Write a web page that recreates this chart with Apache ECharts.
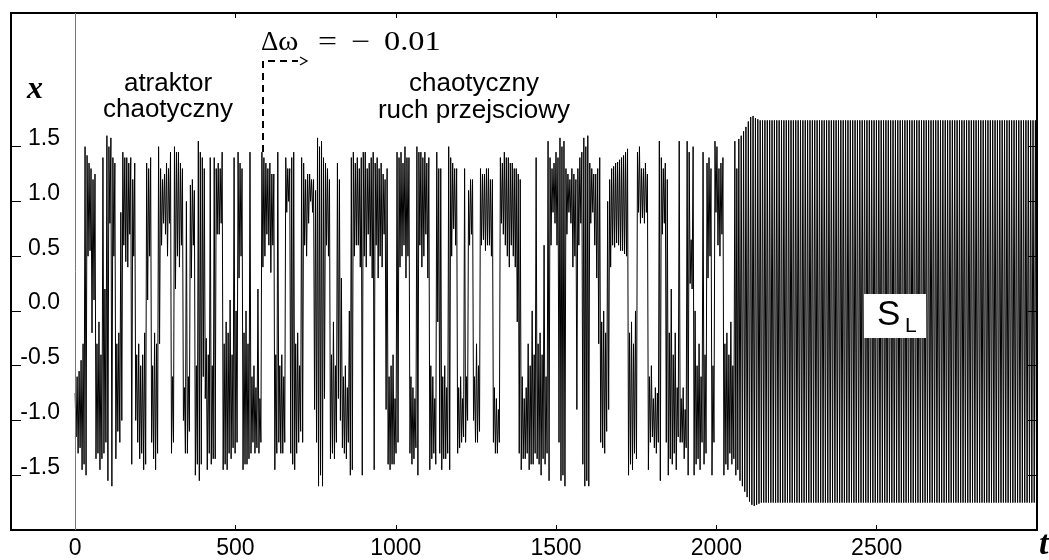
<!DOCTYPE html>
<html>
<head>
<meta charset="utf-8">
<script src="https://cdn.jsdelivr.net/npm/echarts@6/dist/echarts.min.js"></script>
<style>
html,body{margin:0;padding:0;background:#fff;}
#chart{width:1049px;height:560px;}
</style>
</head>
<body>
<div id="chart"></div>
<script>
// ---- data ----
// chaotic part (t = 0 ... ~2070): one (maximum, minimum) pair per oscillation
const chaosMax = [
  -0.75,-0.6,-0.55,-0.45,-0.3,1.5,1.42,1.35,1.3,1.2,1.25,-0.3,-0.1,-0.4,1.4,0.2,1.6,1.5,1.58,1.4,
  1.35,-0.3,-0.2,0.9,1.45,1.4,1.4,1.35,1.4,1.2,1.35,-0.4,-0.3,-0.5,-0.4,-0.2,1.35,1.3,1.4,-0.5,
  -0.2,-0.3,1.5,1.3,1.2,1.25,1.35,1.3,1.45,-0.6,1.5,1.45,1.45,1.35,1.3,-0.7,1.0,-0.6,1.15,1.2,
  1.1,-0.5,1.55,1.45,1.4,1.3,
  -0.25,-0.4,1.4,-0.5,1.4,1.3,1.35,1.3,1.45,-0.3,-0.1,-0.2,0.1,-0.4,1.4,0.0,1.45,1.35,1.3,-0.2,
  0.0,-0.3,1.45,-0.6,-0.5,-0.7,0.2,-0.8,1.45,1.4,1.35,1.3,1.35,1.25,1.25,-0.4,1.45,-0.5,-0.4,-0.6,
  1.4,1.3,1.3,1.4,1.45,-0.3,-0.2,-0.5,1.4,1.35,1.2,1.25,1.25,1.2,1.2,1.1,1.58,1.5,1.55,1.4,
  1.35,1.3,1.2,-0.4,-0.1,-0.5,1.35,1.2,
  0.3,-0.6,-0.5,-0.7,0.0,1.4,1.45,1.35,1.4,1.3,1.4,1.45,1.45,1.3,1.35,1.4,1.45,1.35,1.4,1.3,
  1.35,1.25,1.2,1.3,-0.6,-0.5,-0.4,-0.8,1.45,1.4,1.45,1.35,1.5,1.4,1.4,-0.6,-0.7,-0.8,1.5,1.45,
  1.45,1.4,1.45,1.35,1.4,-0.5,-0.6,-0.8,1.45,1.3,1.3,-0.6,-0.5,-0.7,1.5,1.4,1.35,1.3,1.3,-0.7,
  -0.6,-0.8,1.3,-0.6,1.1,1.2,1.2,-0.6,
  -0.3,-0.5,1.3,1.25,1.25,1.3,1.3,1.2,1.2,-0.7,-0.8,-0.9,1.4,1.35,1.45,1.4,1.4,1.35,1.35,1.3,
  1.3,1.25,1.2,-0.6,-0.8,-0.7,-0.3,-0.5,0.0,-0.4,1.4,-0.3,-0.2,-0.4,0.6,-0.6,1.55,1.4,1.3,1.35,
  1.45,1.4,1.58,1.5,1.55,1.3,1.25,1.2,1.3,1.25,1.2,1.3,1.4,1.45,1.58,1.5,1.6,1.35,1.3,1.25,
  1.25,1.3,1.4,-0.1,0.0,-0.2,1.0,1.2,
  1.3,1.32,1.35,1.36,1.38,1.4,1.42,1.45,1.48,-0.2,-0.1,-0.3,0.0,1.45,1.5,1.3,1.3,1.35,1.25,-0.6,
  -0.5,-0.8,-0.7,-0.75,1.55,1.4,1.3,1.35,1.2,-0.2,0.2,-0.4,-0.2,-0.7,1.55,-0.8,-0.7,-0.9,1.55,1.45,
  0.65,1.5,0.0,-0.5,-0.3,-0.6,1.45,-0.4,1.35,1.4,1.3,-0.5,1.55,1.5,1.3,1.35,1.4,-0.3,-0.2,-0.4,
  -0.1,-0.5,1.55,1.3
];
const chaosMin = [
  -1.15,-1.3,-1.25,-1.45,-1.4,-1.5,0.5,0.55,-0.2,0.1,-1.35,-1.3,-1.45,-1.35,-1.3,-1.2,-1.55,0.8,-1.6,0.5,
  -1.35,-1.1,-1.2,-1.0,0.6,0.45,0.4,0.7,-1.4,0.5,-1.0,-1.2,-1.35,-1.3,-1.45,-1.4,0.1,0.5,-1.2,-1.35,
  -1.45,-1.3,-0.3,0.6,0.8,0.7,0.5,0.8,-1.3,-1.2,0.2,0.5,0.4,0.6,-1.0,-1.3,-1.3,-1.1,0.3,0.6,
  -1.5,-1.4,-1.55,-1.4,-0.6,-0.8,
  -1.45,-1.3,-1.4,-1.35,-1.35,0.7,0.7,0.8,-1.45,-1.4,-1.45,-1.3,-1.35,-1.25,-1.3,-1.2,0.3,0.5,-1.45,-1.4,
  -1.4,-1.35,-1.3,-1.2,-1.3,-1.25,-1.3,-1.2,0.4,0.5,0.7,0.6,0.35,0.6,-1.45,-1.3,-1.2,-1.3,-1.3,-1.2,
  0.9,1.0,-1.3,-1.4,-1.45,-1.3,-1.2,-1.1,-1.2,0.6,0.5,0.8,1.0,0.9,-0.9,-1.2,-1.6,-1.5,-1.6,-0.8,
  0.6,0.5,-1.35,-1.3,-1.35,-1.2,-0.8,-1.0,
  -1.25,-1.3,-1.35,-1.2,-1.5,-1.45,0.5,0.6,0.6,0.4,-1.5,0.5,0.4,0.7,0.5,0.3,-1.45,0.6,0.3,0.5,
  0.4,0.7,-0.9,-1.4,-1.45,-1.4,-1.4,-1.3,-1.2,0.4,0.5,0.6,0.3,0.5,-1.3,-1.4,-1.35,-1.25,-1.5,0.6,
  0.4,0.5,0.7,0.3,-1.45,-1.35,-1.3,-1.4,-0.1,-1.3,-1.45,-1.35,-1.35,-1.3,-1.45,0.5,0.75,0.6,-1.3,-1.25,
  -1.2,-1.15,-1.2,-1.0,0.6,0.7,-1.0,-1.2,
  -1.2,-1.1,0.6,0.65,0.55,0.6,0.6,0.5,-1.2,-1.3,-1.3,-1.2,0.8,0.7,0.6,0.5,0.4,0.6,0.5,0.4,
  -0.1,-1.3,-1.45,-1.35,-1.35,-1.3,-1.45,-1.4,-1.4,-1.3,-1.35,-1.4,-1.5,-1.35,-1.4,-1.3,-1.55,0.6,0.9,0.8,
  0.6,-1.2,-1.55,-1.5,-1.6,0.7,0.9,0.8,0.4,0.5,-0.9,0.6,0.8,-1.4,-1.6,-1.55,-1.6,0.8,0.9,0.6,
  0.3,-0.3,-1.2,-1.25,-1.3,-1.1,-0.9,0.4,
  0.6,0.58,0.62,0.6,0.55,0.55,0.52,0.5,-1.5,-1.4,-1.45,-1.3,-1.35,0.9,0.8,0.85,0.8,0.9,-1.45,-1.2,
  -1.15,-1.25,-1.3,-1.2,-1.55,0.7,0.8,-1.2,-1.5,-1.35,-1.4,-1.3,-1.45,-1.15,-1.2,-1.2,-1.35,-1.25,-1.5,0.25,
  0.2,-1.5,-1.4,-1.35,-1.45,-1.2,-1.4,-1.3,0.3,0.5,-1.5,-1.2,0.9,0.6,0.5,0.7,-1.5,-1.4,-1.45,-1.3,
  -1.4,-1.35,-1.5,-1.45
];
// periodic solution S_L (t > ~2070): one (maximum, minimum) pair per oscillation
const slMax = [
  1.57,1.6,1.64,1.68,1.73,1.77,1.78,1.76,1.75,1.74,
  1.74,1.74,1.74,1.74,1.74,1.74,1.74,1.74,1.74,1.74,
  1.74,1.74,1.74,1.74,1.74,1.74,1.74,1.74,1.74,1.74,
  1.74,1.74,1.74,1.74,1.74,1.74,1.74,1.74,1.74,1.74,
  1.74,1.74,1.74,1.74,1.74,1.74,1.74,1.74,1.74,1.74,
  1.74,1.74,1.74,1.74,1.74,1.74,1.74,1.74,1.74,1.74,
  1.74,1.74,1.74,1.74,1.74,1.74,1.74,1.74,1.74,1.74,
  1.74,1.74,1.74,1.74,1.74,1.74,1.74,1.74,1.74,1.74,
  1.74,1.74,1.74,1.74,1.74,1.74,1.74,1.74,1.74,1.74,
  1.74,1.74,1.74,1.74,1.74,1.74,1.74,1.74,1.74,1.74,
  1.74,1.74,1.74,1.74,1.74,1.74,1.74,1.74,1.74,1.74,
  1.74,1.74,1.74,1.74,1.74,1.74,1.74,1.74,1.74,1.74,
  1.74,1.74,1.74,1.74,1.74,1.74,1.74,1.74
];
const slMin = [
  -1.55,-1.6,-1.65,-1.7,-1.74,-1.77,-1.78,-1.77,-1.76,-1.75,
  -1.75,-1.75,-1.75,-1.75,-1.75,-1.75,-1.75,-1.75,-1.75,-1.75,
  -1.75,-1.75,-1.75,-1.75,-1.75,-1.75,-1.75,-1.75,-1.75,-1.75,
  -1.75,-1.75,-1.75,-1.75,-1.75,-1.75,-1.75,-1.75,-1.75,-1.75,
  -1.75,-1.75,-1.75,-1.75,-1.75,-1.75,-1.75,-1.75,-1.75,-1.75,
  -1.75,-1.75,-1.75,-1.75,-1.75,-1.75,-1.75,-1.75,-1.75,-1.75,
  -1.75,-1.75,-1.75,-1.75,-1.75,-1.75,-1.75,-1.75,-1.75,-1.75,
  -1.75,-1.75,-1.75,-1.75,-1.75,-1.75,-1.75,-1.75,-1.75,-1.75,
  -1.75,-1.75,-1.75,-1.75,-1.75,-1.75,-1.75,-1.75,-1.75,-1.75,
  -1.75,-1.75,-1.75,-1.75,-1.75,-1.75,-1.75,-1.75,-1.75,-1.75,
  -1.75,-1.75,-1.75,-1.75,-1.75,-1.75,-1.75,-1.75,-1.75,-1.75,
  -1.75,-1.75,-1.75,-1.75,-1.75,-1.75,-1.75,-1.75,-1.75,-1.75,
  -1.75,-1.75,-1.75,-1.75,-1.75,-1.75,-1.75,-1.75
];
const chaosEnd = 2070;        // time at which the periodic solution S_L begins
const slHalfStep = 3.7;       // time between successive turning points of S_L
const xTickValues = [0, 500, 1000, 1500, 2000, 2500];
const yTickValues = [-1.5, -1.0, -0.5, 0.0, 0.5, 1.0, 1.5];

// ---- build series from the arrays ----
const n = Math.min(chaosMax.length, chaosMin.length);
const chaosHalfStep = chaosEnd / (2 * n);
const pts = [];
let t = 0;
for (let i = 0; i < n; i++) {
  pts.push([t, chaosMax[i]]); t += chaosHalfStep;
  pts.push([t, chaosMin[i]]); t += chaosHalfStep;
}
t = chaosEnd;
for (let j = 0; j < slMax.length; j++) {
  pts.push([t, slMax[j]]); t += slHalfStep;
  pts.push([t, slMin[j]]); t += slHalfStep;
}

const sans = "'Liberation Sans', Arial, sans-serif";
const serif = "'Liberation Serif', 'Times New Roman', serif";

const chart = echarts.init(document.getElementById('chart'), null, {renderer: 'canvas'});
const tickStyle = {color: '#000', width: 1};
const mathText = (s, x, sx) => ({type: 'text', x: x, y: 43, scaleX: sx,
  style: {text: s, fontSize: 27, fontFamily: serif, fill: '#000', align: 'left', verticalAlign: 'middle'}});
const option = {
  animation: false,
  backgroundColor: '#fff',
  grid: {left: 11, right: 12, top: 13, bottom: 28, show: true, borderColor: '#000', borderWidth: 2, backgroundColor: 'transparent'},
  xAxis: [{
    type: 'value', min: -200, max: 3000, position: 'bottom',
    axisLine: {show: false, onZero: false},
    splitLine: {show: false},
    axisTick: {show: true, inside: true, length: 5, customValues: xTickValues, lineStyle: tickStyle},
    axisLabel: {show: true, customValues: xTickValues, margin: 7, color: '#000', fontSize: 23, fontFamily: sans,
      formatter: v => String(v)}
  }, {
    type: 'value', min: -200, max: 3000, position: 'top',
    axisLine: {show: false, onZero: false}, splitLine: {show: false},
    axisTick: {show: true, inside: true, length: 5, customValues: xTickValues, lineStyle: tickStyle},
    axisLabel: {show: false}
  }],
  yAxis: [{
    type: 'value', min: -2, max: 2.72, position: 'left',
    axisLine: {show: false, onZero: false}, splitLine: {show: false},
    axisTick: {show: true, inside: true, length: 10, customValues: yTickValues, lineStyle: tickStyle},
    axisLabel: {show: true, inside: true, customValues: yTickValues, margin: 49, align: 'right',
      verticalAlign: 'bottom', lineHeight: 16,
      color: '#000', fontSize: 23, fontFamily: sans,
      formatter: v => v.toFixed(1)}
  }, {
    type: 'value', min: -2, max: 2.72, position: 'right',
    axisLine: {show: false, onZero: false}, splitLine: {show: false},
    axisTick: {show: true, inside: true, length: 9, customValues: yTickValues, lineStyle: tickStyle},
    axisLabel: {show: false}
  }],
  series: [{
    type: 'line',
    xAxisIndex: 0, yAxisIndex: 0,
    data: pts,
    showSymbol: false, symbol: 'none',
    sampling: null,
    lineStyle: {color: '#000', width: 1},
    clip: true,
    silent: true,
    markLine: {
      silent: true, symbol: 'none', label: {show: false},
      lineStyle: {color: '#777', width: 1, type: 'solid'},
      data: [{xAxis: 0}]
    }
  }],
  graphic: [
    {type: 'text', x: 35, y: 90, style: {text: 'x', fontSize: 32, fontFamily: serif, fontWeight: 'bold', fontStyle: 'italic', fill: '#000', align: 'center', verticalAlign: 'middle'}},
    {type: 'text', x: 1039, y: 545, style: {text: 't', fontSize: 34, fontFamily: serif, fontWeight: 'bold', fontStyle: 'italic', fill: '#000', align: 'left', verticalAlign: 'middle'}},
    {type: 'text', x: 168, y: 84, style: {text: 'atraktor', fontSize: 26, fontFamily: sans, fill: '#000', align: 'center', verticalAlign: 'middle'}},
    {type: 'text', x: 168, y: 110, style: {text: 'chaotyczny', fontSize: 26, fontFamily: sans, fill: '#000', align: 'center', verticalAlign: 'middle'}},
    {type: 'text', x: 474, y: 84, style: {text: 'chaotyczny', fontSize: 26, fontFamily: sans, fill: '#000', align: 'center', verticalAlign: 'middle'}},
    {type: 'text', x: 474, y: 111, style: {text: 'ruch przejsciowy', fontSize: 26, fontFamily: sans, fill: '#000', align: 'center', verticalAlign: 'middle'}},
    mathText('Δ', 261, 1.0),
    mathText('ω', 278, 1.15),
    mathText('=', 318, 1.25),
    mathText('−', 351, 1.25),
    mathText('0.01', 384, 1.2),
    {type: 'polyline', shape: {points: [[263, 152], [263, 61], [298, 61]]}, style: {stroke: '#000', lineWidth: 2, lineDash: [7, 5], fill: null}},
    {type: 'polyline', shape: {points: [[300, 57], [307, 61], [300, 65]]}, style: {stroke: '#000', lineWidth: 1.3, fill: null}},
    {type: 'rect', shape: {x: 864, y: 294, width: 62, height: 44}, style: {fill: '#fff', stroke: null}, z: 100},
    {type: 'text', x: 877, y: 315, z: 101, style: {text: 'S', fontSize: 35, fontFamily: sans, fill: '#000', align: 'left', verticalAlign: 'middle'}},
    {type: 'text', x: 905, y: 326, z: 101, style: {text: 'L', fontSize: 21, fontFamily: sans, fill: '#000', align: 'left', verticalAlign: 'middle'}}
  ]
};
chart.setOption(option);
</script>
</body>
</html>
